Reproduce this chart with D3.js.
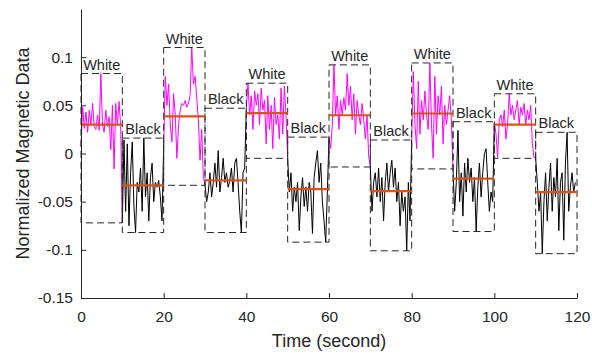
<!DOCTYPE html>
<html>
<head>
<meta charset="utf-8">
<script src="https://cdn.jsdelivr.net/npm/d3@7"></script>
<style>
  body { margin: 0; background: #fff; }
  text { font-family: "Liberation Sans", Arial, Helvetica, sans-serif; fill: #262626; }
</style>
</head>
<body>
<svg id="chart" width="592" height="353"></svg>
<script>
// segment labels, one per 10 s window
const segLabels = ['White', 'Black', 'White', 'Black', 'White', 'Black',
                   'White', 'Black', 'White', 'Black', 'White', 'Black'];

// sampled signal for each window (25 samples per 10 s)
const seg1 = [0.007, 0.048, 0.026, 0.043, 0.022, 0.045, 0.030, 0.052, 0.028, 0.025, 0.040, 0.024, 0.083, 0.030, 0.022, 0.045, 0.028, 0.038, 0.004, 0.050, -0.016, 0.052, 0.030, 0.054, 0.028];
const seg2 = [-0.072, 0.014, -0.060, 0.010, -0.075, -0.020, 0.012, -0.055, -0.082, -0.030, -0.040, -0.015, -0.060, 0.016, -0.045, -0.020, -0.070, -0.025, -0.010, -0.050, -0.030, -0.035, -0.028, -0.045, -0.070];
const seg3 = [0.007, 0.080, 0.050, 0.072, 0.030, 0.012, 0.062, 0.040, -0.005, 0.030, 0.045, 0.052, 0.050, 0.055, 0.048, 0.052, 0.060, 0.110, 0.072, 0.080, 0.058, 0.035, -0.007, 0.025, -0.024];
const seg4 = [-0.033, -0.050, -0.040, -0.020, -0.045, -0.030, -0.010, -0.035, 0.003, -0.040, -0.025, -0.005, -0.030, -0.020, -0.035, -0.028, -0.015, -0.040, -0.010, -0.005, -0.030, -0.060, -0.082, -0.020, -0.015];
const seg5 = [0.047, 0.073, 0.040, 0.060, 0.025, 0.065, 0.050, 0.062, 0.030, 0.068, 0.045, 0.055, 0.010, 0.060, 0.025, 0.050, 0.005, 0.058, 0.030, 0.040, 0.015, 0.068, 0.020, 0.070, 0.040];
const seg6 = [-0.005, -0.040, -0.020, -0.060, -0.035, -0.050, -0.030, -0.080, -0.045, -0.025, -0.055, -0.035, -0.060, -0.030, -0.040, -0.083, -0.025, -0.010, 0.003, -0.030, -0.010, -0.050, -0.070, -0.092, -0.040];
const seg7 = [0.017, 0.005, 0.030, 0.092, 0.040, 0.060, 0.025, 0.055, 0.040, 0.058, 0.045, 0.083, 0.050, 0.070, 0.035, 0.062, 0.020, 0.055, 0.040, 0.030, 0.052, 0.035, 0.015, 0.040, -0.003];
const seg8 = [-0.014, -0.060, -0.030, -0.020, -0.045, -0.015, -0.050, -0.025, -0.070, -0.030, -0.010, -0.040, -0.020, -0.007, -0.035, -0.015, -0.050, -0.030, -0.075, -0.040, -0.060, -0.045, -0.101, -0.030, -0.070];
const seg9 = [0.014, 0.085, 0.030, 0.005, 0.075, 0.020, 0.055, 0.035, 0.065, 0.040, 0.025, 0.094, 0.030, -0.005, 0.080, 0.020, 0.060, 0.040, 0.070, 0.010, 0.050, 0.030, 0.045, 0.060, 0.035];
const seg10 = [-0.016, -0.060, -0.030, 0.024, -0.050, -0.020, -0.065, -0.010, -0.040, -0.005, -0.030, -0.015, -0.050, -0.025, -0.081, -0.035, -0.010, -0.045, -0.020, 0.000, 0.005, -0.030, -0.060, -0.040, -0.050];
const seg11 = [0.033, 0.020, -0.004, 0.035, 0.040, 0.028, 0.045, 0.015, 0.030, 0.062, 0.040, 0.050, 0.035, 0.045, 0.055, 0.030, 0.048, 0.040, 0.052, 0.030, 0.045, 0.035, 0.050, 0.010, -0.004];
const seg12 = [-0.005, -0.030, -0.060, -0.040, -0.104, -0.050, -0.020, -0.070, -0.035, -0.010, -0.060, -0.025, -0.045, -0.005, -0.080, -0.030, -0.020, -0.090, -0.010, 0.022, -0.060, -0.035, -0.020, -0.040, -0.030];

// mean level of each window (orange bars)
const segMeans = [0.030, -0.033, 0.0386, -0.028, 0.042, -0.037, 0.0397, -0.039, 0.0415, -0.026, 0.030, -0.040];

const xTicks = [0, 20, 40, 60, 80, 100, 120];
const yTicks = [-0.15, -0.1, -0.05, 0, 0.05, 0.1];

const segs = [seg1, seg2, seg3, seg4, seg5, seg6, seg7, seg8, seg9, seg10, seg11, seg12];
const segLen = 10;

const svg = d3.select('#chart');
const margin = { left: 81, right: 15, top: 9, bottom: 55 };
const W = 592, H = 353;

const x = d3.scaleLinear().domain([0, 120]).range([margin.left, W - margin.right]);
const y = d3.scaleLinear().domain([-0.15, 0.15]).range([H - margin.bottom, margin.top]);

// points of a window, plus the first sample of the next window
function segPoints(i) {
  const vals = segs[i];
  const t0 = i * segLen;
  const dt = segLen / vals.length;
  const pts = vals.map((v, k) => [t0 + k * dt, v]);
  if (i + 1 < segs.length) pts.push([t0 + segLen, segs[i + 1][0]]);
  return pts;
}

const line = d3.line().x(d => x(d[0])).y(d => y(d[1]));

// signal
svg.append('g')
  .selectAll('path')
  .data(segs.map((s, i) => i))
  .join('path')
  .attr('d', i => line(segPoints(i)))
  .attr('fill', 'none')
  .attr('stroke', i => segLabels[i] === 'White' ? '#ff00ff' : '#000')
  .attr('stroke-width', 1);

// dashed boxes and labels
const boxes = segs.map((s, i) => {
  const ext = d3.extent(segPoints(i), d => d[1]);
  return { i, lo: ext[0], hi: ext[1] };
});

svg.append('g')
  .selectAll('rect')
  .data(boxes)
  .join('rect')
  .attr('x', d => x(d.i * segLen))
  .attr('width', d => x((d.i + 1) * segLen) - x(d.i * segLen))
  .attr('y', d => y(d.hi))
  .attr('height', d => y(d.lo) - y(d.hi))
  .attr('fill', 'none')
  .attr('stroke', '#262626')
  .attr('stroke-width', 1)
  .attr('stroke-dasharray', '7,4');

svg.append('g')
  .selectAll('line')
  .data(segMeans)
  .join('line')
  .attr('x1', (d, i) => x(i * segLen))
  .attr('x2', (d, i) => x((i + 1) * segLen))
  .attr('y1', d => y(d))
  .attr('y2', d => y(d))
  .attr('stroke', '#D95319')
  .attr('stroke-width', 2.2);

svg.append('g')
  .selectAll('text')
  .data(boxes)
  .join('text')
  .attr('x', d => x(d.i * segLen + segLen / 2))
  .attr('y', d => y(d.hi) - 4)
  .attr('text-anchor', 'middle')
  .attr('font-size', 14.5)
  .text(d => segLabels[d.i]);

// axes
const xAxis = svg.append('g')
  .attr('transform', `translate(0,${H - margin.bottom})`)
  .call(d3.axisBottom(x).tickValues(xTicks).tickSizeInner(-5).tickSizeOuter(0).tickPadding(13));
const yAxis = svg.append('g')
  .attr('transform', `translate(${margin.left},0)`)
  .call(d3.axisLeft(y).tickValues(yTicks).tickFormat(d => String(+d.toFixed(2))).tickSizeInner(-5).tickSizeOuter(0).tickPadding(8));

[xAxis, yAxis].forEach(a => {
  a.select('.domain').attr('stroke', '#262626');
  a.selectAll('.tick line').attr('stroke', '#262626');
  a.selectAll('.tick text').attr('font-size', 15.5).attr('fill', '#262626')
    .style('font-family', '"Liberation Sans", Arial, sans-serif');
});

svg.append('text')
  .attr('x', x(60))
  .attr('y', 347)
  .attr('text-anchor', 'middle')
  .attr('font-size', 18)
  .text('Time (second)');

svg.append('text')
  .attr('transform', `translate(29,${y(0)}) rotate(-90)`)
  .attr('text-anchor', 'middle')
  .attr('font-size', 18)
  .text('Normalized Magnetic Data');
</script>
</body>
</html>
